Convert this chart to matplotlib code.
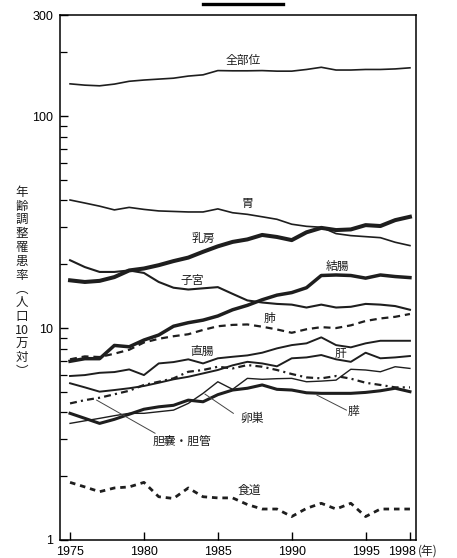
import matplotlib
matplotlib.use("Agg")
import matplotlib.pyplot as plt
from matplotlib.lines import Line2D
from matplotlib.ticker import FixedLocator, NullFormatter

plt.rcParams['font.family'] = ['Liberation Sans', 'Noto Sans CJK JP', 'DejaVu Sans']
plt.rcParams['lines.scale_dashes'] = False

years = list(range(1975, 1999))

all_sites = [142, 140, 139, 141.6, 146, 148, 149.5, 151, 154.5, 156.6, 164, 163.6,
             163.6, 164, 163, 163, 166, 170, 165, 165, 166, 166, 167, 169]
stomach = [40.2, 38.9, 37.6, 36.1, 37.1, 36.3, 35.7, 35.5, 35.3, 35.3, 36.5, 35.0,
           34.4, 33.5, 32.6, 30.9, 30.2, 29.9, 27.9, 27.3, 27.0, 26.7, 25.4, 24.5]
breast = [16.8, 16.5, 16.7, 17.4, 18.7, 19.1, 19.8, 20.7, 21.5, 22.9, 24.3, 25.5,
          26.2, 27.5, 26.9, 26.0, 28.3, 29.7, 29.0, 29.2, 30.6, 30.3, 32.3, 33.5]
uterus = [20.9, 19.4, 18.4, 18.4, 18.7, 18.2, 16.5, 15.5, 15.2, 15.4, 15.6, 14.5,
          13.5, 13.2, 13.0, 12.9, 12.5, 12.9, 12.5, 12.6, 13.0, 12.9, 12.7, 12.2]
colon = [6.97, 7.17, 7.17, 8.28, 8.16, 8.78, 9.27, 10.2, 10.6, 10.9, 11.4, 12.2,
         12.8, 13.6, 14.3, 14.7, 15.5, 17.7, 17.8, 17.7, 17.2, 17.8, 17.5, 17.3]
lung = [7.12, 7.35, 7.30, 7.57, 7.90, 8.55, 8.90, 9.15, 9.35, 9.80, 10.2, 10.35,
        10.4, 10.15, 9.85, 9.50, 9.87, 10.1, 10.0, 10.3, 10.8, 11.1, 11.3, 11.65]
rectum = [5.94, 6.00, 6.15, 6.20, 6.38, 6.00, 6.81, 6.91, 7.12, 6.81, 7.20, 7.32,
          7.43, 7.65, 8.02, 8.31, 8.47, 9.04, 8.31, 8.11, 8.47, 8.71, 8.71, 8.71]
liver = [5.49, 5.25, 5.01, 5.10, 5.20, 5.33, 5.52, 5.73, 5.89, 6.11, 6.34, 6.67,
         6.93, 6.81, 6.60, 7.20, 7.27, 7.46, 7.12, 6.93, 7.65, 7.20, 7.27, 7.38]
ovary = [3.55, 3.65, 3.75, 3.86, 3.96, 3.96, 4.03, 4.10, 4.41, 4.92, 5.58, 5.14,
         5.79, 5.73, 5.77, 5.79, 5.58, 5.62, 5.68, 6.39, 6.34, 6.22, 6.57, 6.45]
pancreas = [3.96, 3.75, 3.55, 3.71, 3.92, 4.14, 4.25, 4.32, 4.57, 4.49, 4.85, 5.10,
            5.20, 5.39, 5.14, 5.10, 4.95, 4.92, 4.92, 4.92, 4.97, 5.06, 5.20, 5.01]
gallbladder = [4.41, 4.57, 4.69, 4.87, 5.06, 5.39, 5.58, 5.79, 6.22, 6.34, 6.57, 6.45,
               6.69, 6.57, 6.34, 6.07, 5.85, 5.79, 5.94, 5.77, 5.52, 5.39, 5.25, 5.25]
esophagus = [1.87, 1.78, 1.69, 1.76, 1.78, 1.87, 1.60, 1.57, 1.76, 1.60, 1.58, 1.58,
             1.47, 1.40, 1.40, 1.29, 1.41, 1.49, 1.40, 1.49, 1.29, 1.40, 1.40, 1.40]

x_ticks = [1975, 1980, 1985, 1990, 1995, 1998]
x_tick_labels = ['1975', '1980', '1985', '1990', '1995', '1998']
y_ticks = [1, 10, 100, 300]
y_tick_labels = ['1', '10', '100', '300']

C = '#1e1e1e'
JP = ['Noto Sans CJK JP', 'DejaVu Sans']

fig = plt.figure(figsize=(4.57, 5.58), dpi=100)
fig.patch.set_facecolor('white')
ax = fig.add_axes([60 / 457, 18 / 558, 356 / 457, 525 / 558])

ax.plot(years, all_sites, color=C, lw=1.2)
ax.plot(years, stomach, color=C, lw=1.2)
ax.plot(years, breast, color=C, lw=2.9)
ax.plot(years, uterus, color=C, lw=1.5)
ax.plot(years, colon, color=C, lw=2.5)
ax.plot(years, lung, color=C, lw=1.6, dashes=(5, 3.5))
ax.plot(years, rectum, color=C, lw=1.4)
ax.plot(years, liver, color=C, lw=1.4)
ax.plot(years, ovary, color=C, lw=1.0)
ax.plot(years, pancreas, color=C, lw=2.2)
ax.plot(years, gallbladder, color=C, lw=1.6, dashes=(5, 3, 1.5, 3))
ax.plot(years, esophagus, color=C, lw=2.0, dashes=(4, 3.5))

ax.set_yscale('log')
ax.set_xlim(1974.32, 1998.41)
ax.set_ylim(1, 300)

ax.yaxis.set_major_locator(FixedLocator(y_ticks))
ax.set_yticklabels(y_tick_labels)
minor = [m * d for d in (1, 10) for m in range(2, 10)] + [200]
ax.yaxis.set_minor_locator(FixedLocator(minor))
ax.yaxis.set_minor_formatter(NullFormatter())
ax.set_xticks(x_ticks)
# the last year label sits slightly left of its tick in the reference
ax.set_xticklabels(x_tick_labels[:-1] + [''])

ax.tick_params(axis='both', which='both', direction='in', colors='black',
               labelsize=9, top=False, right=False)
ax.tick_params(axis='y', which='major', length=6, width=1.0, pad=5)
ax.tick_params(axis='y', which='minor', length=5, width=0.9)
ax.tick_params(axis='x', which='major', length=5.5, width=1.0, pad=4.5)
for s in ax.spines.values():
    s.set_linewidth(1.1)
    s.set_color('black')

# last year label and unit, aligned with the other tick labels (va top at same offset)
from matplotlib.transforms import blended_transform_factory, ScaledTranslation
tr = blended_transform_factory(fig.transFigure, ax.transAxes) + \
    ScaledTranslation(0, -4.5 / 72, fig.dpi_scale_trans)
fig.text(402 / 457, 0, x_tick_labels[-1], fontsize=9, ha='center', va='top',
         color='black', transform=tr)
fig.text(428 / 457, 0, '(年)', family=JP, fontsize=8.5, ha='center', va='top',
         color=C, transform=tr + ScaledTranslation(0, 1.5 / 72, fig.dpi_scale_trans))

# series labels
labels = [
    ('全部位', 1986.7, 183),
    ('胃', 1987.0, 38.9),
    ('乳房', 1984.0, 26.5),
    ('子宮', 1983.3, 16.8),
    ('結腸', 1993.1, 19.5),
    ('肺', 1988.5, 11.1),
    ('直腸', 1983.9, 7.73),
    ('肝', 1993.3, 7.6),
    ('卵巣', 1987.3, 3.75),
    ('膵', 1994.2, 4.03),
    ('胆嚢・胆管', 1982.6, 2.91),
    ('食道', 1987.1, 1.72),
]
for t, xv, yv in labels:
    ax.text(xv, yv, t, family=JP, fontsize=8.5, ha='center', va='center', color=C)

# leader lines
leaders = [
    ((1986.05, 3.96), (1984.13, 4.88)),
    ((1993.7, 4.10), (1991.7, 4.83)),
    ((1980.75, 3.19), (1976.8, 4.57)),
]
for (x0, y0), (x1, y1) in leaders:
    ax.plot([x0, x1], [y0, y1], color='#444444', lw=0.7)

# vertical y-axis label
ylab = '\n'.join(['年', '齢', '調', '整', '罹', '患', '率', '︵', '人', '口', '10', '万', '対', '︶'])
fig.text(22 / 457, 1 - 282 / 558, ylab, family=JP, fontsize=9, ha='center', va='center',
         linespacing=1.08, color=C)

# top bar
fig.add_artist(Line2D([203 / 457, 283 / 457], [1 - 3.5 / 558, 1 - 3.5 / 558], lw=2.4, color='black'))

fig.savefig('out.png', dpi=100, facecolor='white')
